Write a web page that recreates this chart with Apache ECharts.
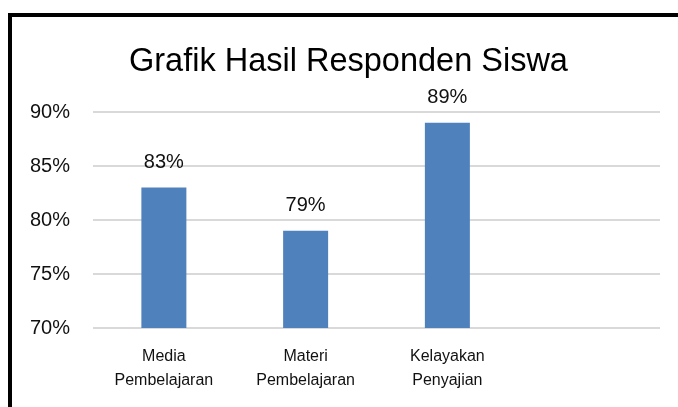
<!DOCTYPE html>
<html><head><meta charset="utf-8">
<script src="https://cdn.jsdelivr.net/npm/echarts@6/dist/echarts.min.js"></script>
<style>
html,body{margin:0;padding:0;background:#fff;}
#c{width:678px;height:407px;}
#frame{position:absolute;left:8px;top:13px;width:680px;height:400px;border-left:4px solid #000;border-top:4px solid #000;pointer-events:none;}
</style></head>
<body><div id="c"></div><div id="frame"></div>
<script>
const titleText = 'Grafik Hasil Responden Siswa';
const categories = ['Media\nPembelajaran', 'Materi\nPembelajaran', 'Kelayakan\nPenyajian', ''];
const values = [83, 79, 89, null];
const yMin = 70, yMax = 90, yStep = 5;

const chart = echarts.init(document.getElementById('c'));
const font = 'Liberation Sans, Arial, sans-serif';
chart.setOption({
  animation: false,
  title: {text: titleText, left: 124, top: 41, textStyle: {fontFamily: font, fontWeight: 'normal', fontSize: 32.5, color: '#000'}},
  grid: {left: 93, right: 18, top: 112, bottom: 79},
  xAxis: {type: 'category', data: categories,
    axisLine: {show: false}, axisTick: {show: false},
    axisLabel: {fontFamily: font, fontSize: 16, color: '#111', lineHeight: 24, margin: 17, interval: 0}},
  yAxis: {type: 'value', min: yMin, max: yMax, interval: yStep,
    axisLine: {show: false}, axisTick: {show: false},
    axisLabel: {formatter: '{value}%', fontFamily: font, fontSize: 20, color: '#111', margin: 23},
    splitLine: {lineStyle: {color: '#d9d9d9', width: 2}}},
  series: [{type: 'bar', data: values, barWidth: 45, itemStyle: {color: '#4F81BD'},
    label: {show: true, position: 'top', formatter: '{c}%', fontFamily: font, fontSize: 20, color: '#111', distance: 15}}]
});
</script></body></html>
